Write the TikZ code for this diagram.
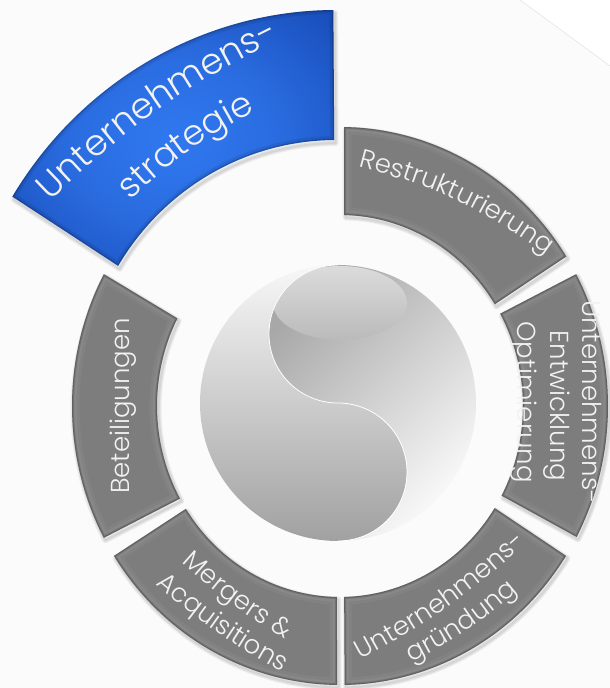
\documentclass[tikz,border=0pt]{standalone}
\usepackage{fontspec}
\usetikzlibrary{decorations.text,shadings}
\newfontfamily\gothic{Poppins Light}
\definecolor{bgc}{HTML}{FBFBFB}
\definecolor{segbase}{HTML}{7D7D7D}
\definecolor{txtc}{HTML}{F2F2F2}
\definecolor{blA}{HTML}{3078F0}
\definecolor{blB}{HTML}{2A6CE0}
\definecolor{blC}{HTML}{1B52C0}
\definecolor{blD}{HTML}{0D3A9C}
\pgfdeclareradialshading{bluerad}{\pgfpoint{0bp}{0bp}}{color(0bp)=(blA);color(16bp)=(blB);color(32bp)=(blC);color(50bp)=(blD)}
\newcommand{\segp}[4]{([shift={(340,282)}]#1:268 and 279) arc[start angle=#1,end angle=#2,x radius=268,y radius=279] -- ([shift={(340,282)}]#3:183 and 191) arc[start angle=#3,end angle=#4,x radius=183,y radius=191] -- cycle}
\newcommand{\blueP}{([shift={(336,286)}]148.4:380 and 392) arc[start angle=148.4,end angle=90.4,x radius=380,y radius=392] -- ([shift={(336,286)}]90.4:255 and 262) arc[start angle=90.4,end angle=148.7,x radius=255,y radius=262] -- cycle}
\newcommand{\segment}[4]{%
  \begin{scope}[shift={(1.5,-2.5)}]
    \foreach \w in {6,4,2}{\draw[line width=\w pt,black,opacity=.05,line join=round] \segp{#1}{#2}{#3}{#4};}
  \end{scope}
  \fill[segbase] \segp{#1}{#2}{#3}{#4};
  \begin{scope}
    \clip \segp{#1}{#2}{#3}{#4};
    \draw[line width=15pt,color=white,opacity=.04] \segp{#1}{#2}{#3}{#4};
    \draw[line width=9pt,color=white,opacity=.05] \segp{#1}{#2}{#3}{#4};
    \draw[line width=4pt,color=black,opacity=.14] \segp{#1}{#2}{#3}{#4};
    \draw[line width=2pt,color=black,opacity=.16] \segp{#1}{#2}{#3}{#4};
  \end{scope}}
% from, to, bend, size, text
\newcommand{\curvetext}[5]{%
  \path[decorate,decoration={text along path,text align=center,text color=txtc,
    text={|\gothic\fontsize{#4}{#4}\selectfont|#5}}]
    (#1) to[#3] (#2);}
\begin{document}
\begin{tikzpicture}[x=1pt,y=1pt,
  sidetext/.style={text=txtc,font=\gothic\fontsize{26}{26}\selectfont,anchor=base,inner sep=0pt}]
\useasboundingbox (0,0) rectangle (610,688);
\fill[bgc] (0,0) rectangle (610,688);
\fill[white] (520,688) -- (610,688) -- (610,622) -- cycle;
\draw[color=black!10,line width=.6pt] (520,688) -- (610,622);
% ring
\segment{89.1}{32.4}{32.2}{88.7}
\segment{28.2}{-28}{-28}{28.9}
\segment{-32.5}{-89}{-88.7}{-32.3}
\segment{-90.6}{-147.5}{-147.4}{-91}
\segment{208.2}{151.8}{152.7}{209}
% blue
\begin{scope}[shift={(1.5,-3)}]
  \foreach \w in {6,4,2}{\draw[line width=\w pt,black,opacity=.05,line join=round] \blueP;}
\end{scope}
\shade[shading=bluerad] \blueP;
\begin{scope}
  \clip \blueP;
  \draw[line width=8pt,color=black,opacity=.08] \blueP;
  \draw[line width=3pt,color=black,opacity=.16] \blueP;
\end{scope}
% centre disc
\shade[top color=white!97!black,middle color=black!14,bottom color=black!37]
  (338,423) arc[start angle=90,end angle=270,radius=138]
  arc[start angle=-90,end angle=90,radius=69]
  arc[start angle=-90,end angle=-270,radius=69] -- cycle;
\shade[top color=black!34,middle color=black!15,bottom color=black!2,shading angle=45]
  (338,423) arc[start angle=90,end angle=-90,radius=138]
  arc[start angle=-90,end angle=90,radius=69]
  arc[start angle=-90,end angle=-270,radius=69] -- cycle;
\begin{scope}
  \clip (338,423) arc[start angle=90,end angle=-90,radius=138]
  arc[start angle=-90,end angle=90,radius=69]
  arc[start angle=-90,end angle=-270,radius=69] -- cycle;
  \shade[top color=black!14,bottom color=black!27] (340,385) ellipse[x radius=67,y radius=37];
\end{scope}
\draw[white,line width=.8pt] (338,147) arc[start angle=-90,end angle=90,radius=69]
  arc[start angle=-90,end angle=-270,radius=69];
% straight labels
\node[sidetext,rotate=-90] (u1) at (582,286) {Unternehmens-};
\node[sidetext,rotate=-90] (u2) at (550,282) {Entwicklung};
\node[sidetext,rotate=-90] (u3) at (517,286) {Optimierung};
\node[sidetext,rotate=90] (bet) at (129,282) {Beteiligungen};
% curved labels
\curvetext{352,523}{552,429}{bend left=11}{26}{Restrukturierung}
\curvetext{173,133}{295,43}{bend right=6}{26}{Mergers {\&}}
\curvetext{148,110}{291,11}{bend right=6}{26}{Acquisitions}
\curvetext{357,26}{530,148}{bend right=7}{26}{Unternehmens-}
\curvetext{403,21}{525,103}{bend right=7}{26}{gründung}
\curvetext{48,484}{283,650}{bend left=9}{36}{Unternehmens-}
\curvetext{122,479}{266,582}{bend left=9}{35}{strategie}
\end{tikzpicture}
\end{document}
